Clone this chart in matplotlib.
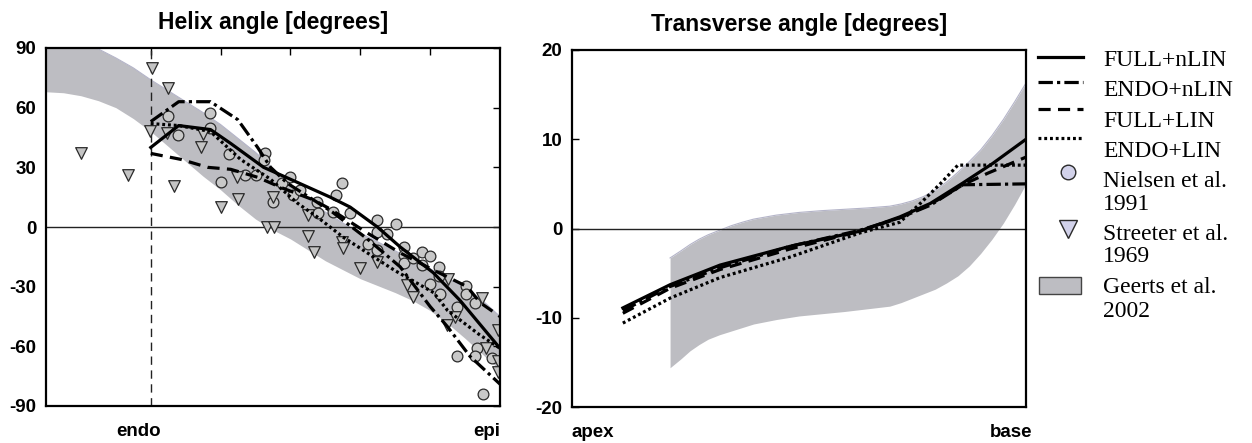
import numpy as np
import matplotlib
matplotlib.use("Agg")
import matplotlib.pyplot as plt
from matplotlib.lines import Line2D
from matplotlib.patches import Rectangle

# ---------------- data: Helix angle panel ----------------
helix_band_x = [-0.3, -0.25, -0.2, -0.15, -0.1, -0.05, 0.0, 0.05, 0.1, 0.15, 0.2, 0.25, 0.3,
                0.35, 0.4, 0.45, 0.5, 0.55, 0.6, 0.65, 0.7, 0.75, 0.8, 0.85, 0.9, 0.95, 1.0]
helix_band_upper = [96, 95, 93, 89.5, 85, 80, 74, 68.5, 63, 57.5, 51.5, 44.5, 37.5,
                    29.5, 21.5, 14, 7.5, 2, -3, -7.5, -12, -16.5, -21, -25.8, -30.5, -37, -45]
helix_band_lower = [68, 67.5, 66, 63.5, 60, 54.5, 48, 40.5, 33, 25.5, 18.7, 11, 4,
                    -1.5, -6, -11.5, -17, -21.5, -26, -29.5, -33, -37, -42, -48.5, -56, -64, -72]

helix_full_nlin_x = [0, 0.08, 0.171, 0.229, 0.323, 0.4, 0.514, 0.571, 0.649, 0.714, 0.809, 0.886, 1.0]
helix_full_nlin_y = [40, 51, 49, 42, 30, 24, 15, 10, 0, -10, -23, -37, -61]

helix_endo_nlin_x = [0, 0.08, 0.171, 0.249, 0.306, 0.343, 0.391, 0.466, 0.52, 0.62, 0.714, 0.8, 0.849, 0.914, 1.0]
helix_endo_nlin_y = [53, 63, 63, 54, 40, 30, 22, 13.6, 7.5, -6, -20, -40, -50, -65, -79]

helix_full_lin_x = [0, 0.086, 0.163, 0.229, 0.306, 0.371, 0.466, 0.514, 0.62, 0.714, 0.809, 0.906, 0.943, 1.0]
helix_full_lin_y = [37, 34, 30, 29, 25, 20, 13.6, 9, -3, -13, -21.6, -30, -38, -45]

helix_endo_lin_x = [0, 0.08, 0.171, 0.257, 0.343, 0.42, 0.477, 0.55, 0.62, 0.7, 0.81, 0.85, 0.94, 1.0]
helix_endo_lin_y = [52, 51, 48, 34, 24, 12, 5, -5, -13, -22, -33, -42, -54, -61]

nielsen_x = [0.049, 0.077, 0.171, 0.171, 0.223, 0.2, 0.271, 0.3, 0.326, 0.323, 0.349, 0.377,
             0.4, 0.406, 0.426, 0.477, 0.48, 0.549, 0.529, 0.523, 0.571, 0.649, 0.703, 0.649,
             0.677, 0.623, 0.649, 0.726, 0.726, 0.726, 0.751, 0.777, 0.8, 0.777, 0.826, 0.826,
             0.8, 0.829, 0.903, 0.903, 0.877, 0.929, 0.934, 0.929, 0.877, 0.977, 0.951]
nielsen_y = [55.8, 46.3, 57.3, 49.8, 36.7, 22.6, 26.1, 26.1, 37.2, 33.7, 12.6, 22.1,
             25.1, 16.1, 18.6, 12.6, 7.0, 22.1, 16.1, 7.5, 7.0, 3.5, 1.5, -2.5,
             -3.5, -8.5, -11.6, -10.1, -14.1, -18.1, -15.6, -12.6, -14.6, -19.1, -20.1, -24.6,
             -28.7, -33.7, -29.7, -33.7, -40.2, -38.2, -60.8, -64.9, -64.9, -65.9, -84.0]

streeter_x = [-0.2, -0.066, 0.003, 0.049, -0.003, 0.046, 0.149, 0.143, 0.066, 0.2, 0.251,
              0.246, 0.349, 0.334, 0.354, 0.449, 0.451, 0.466, 0.549, 0.551, 0.6, 0.649,
              0.734, 0.751, 0.851, 0.849, 0.871, 0.949, 0.994, 0.96, 0.994, 0.994]
streeter_y = [37.2, 26.1, 79.9, 69.9, 48.3, 47.3, 46.8, 40.2, 20.6, 10.1, 14.1,
              25.1, 15.1, 0, 0, 6.0, -4.5, -12.6, -7.5, -10.6, -20.6, -17.6,
              -29.2, -35.2, -26.1, -49.3, -45.2, -35.7, -51.8, -60.8, -67.4, -72.9]

helix_ticks = [-90, -60, -30, 0, 30, 60, 90]
helix_xticks = [0, 0.2, 0.4, 0.6, 0.8]

# ---------------- data: Transverse angle panel ----------------
trans_band_x = [0.216, 0.24, 0.26, 0.28, 0.3, 0.325, 0.35, 0.375, 0.4, 0.45, 0.5, 0.55, 0.6,
                0.65, 0.7, 0.725, 0.75, 0.775, 0.8, 0.825, 0.85, 0.875, 0.9, 0.925, 0.95,
                0.975, 1.0]
trans_band_upper = [-3.3, -2.5, -1.8, -1.2, -0.7, -0.2, 0.3, 0.7, 1.05, 1.5, 1.8, 2.0, 2.15,
                    2.3, 2.5, 2.75, 3.1, 3.6, 4.3, 5.2, 6.3, 7.5, 8.8, 10.4, 12.2, 14.2, 16.3]
trans_band_lower = [-15.6, -14.6, -13.7, -13.0, -12.4, -11.9, -11.5, -11.1, -10.7, -10.2, -9.8,
                    -9.55, -9.3, -9.0, -8.7, -8.3, -7.8, -7.3, -6.8, -6.1, -5.3, -4.2, -2.8,
                    -1.2, 0.6, 2.7, 5.0]

trans_full_nlin_x = [0.112, 0.216, 0.326, 0.48, 0.634, 0.722, 0.789, 0.861, 0.927, 1.0]
trans_full_nlin_y = [-8.9, -6.3, -4.1, -2.0, -0.3, 1.3, 2.8, 5.1, 7.3, 10.0]

trans_endo_nlin_x = [0.112, 0.216, 0.326, 0.48, 0.634, 0.722, 0.789, 0.861, 1.0]
trans_endo_nlin_y = [-9.2, -6.5, -4.4, -2.0, -0.2, 1.2, 2.6, 4.9, 5.0]

trans_full_lin_x = [0.112, 0.216, 0.326, 0.48, 0.634, 0.722, 0.789, 0.861, 0.916, 1.0]
trans_full_lin_y = [-9.5, -6.7, -4.6, -2.3, -0.3, 1.2, 2.7, 4.9, 6.2, 8.0]

trans_endo_lin_x = [0.112, 0.216, 0.326, 0.48, 0.634, 0.722, 0.767, 0.811, 0.85, 1.0]
trans_endo_lin_y = [-10.6, -7.8, -5.5, -3.2, -0.5, 0.7, 2.8, 5.0, 7.1, 7.1]

trans_ticks = [-20, -10, 0, 10, 20]

series_labels = ["FULL+nLIN", "ENDO+nLIN", "FULL+LIN", "ENDO+LIN"]
ref_labels = [["Nielsen et al.", "1991"], ["Streeter et al.", "1969"], ["Geerts et al.", "2002"]]

# ---------------- styles ----------------
W, H = 1252, 443
BAND = "#bdbdc2"
BAND_EDGE = "#b4b4c8"
SANS = ["Liberation Sans", "DejaVu Sans"]
SERIF = ["Liberation Serif", "DejaVu Serif"]
styles = {
    "FULL+nLIN": dict(ls="-", lw=2.3),
    "ENDO+nLIN": dict(ls=(0, (4.5, 1.3, 1.0, 1.3)), lw=2.3),
    "FULL+LIN": dict(ls=(0, (3.8, 2.3)), lw=2.3),
    "ENDO+LIN": dict(ls=(0, (0.9, 0.9)), lw=2.3),
}

plt.rcParams["font.family"] = SANS
plt.rcParams["axes.unicode_minus"] = False
fig = plt.figure(figsize=(W / 100, H / 100), dpi=100)


def ax_rect(x0, y0, x1, y1):
    return [x0 / W, 1 - y1 / H, (x1 - x0) / W, (y1 - y0) / H]


# ---------------- left panel ----------------
ax1 = fig.add_axes(ax_rect(46, 48, 500, 406))
ax1.fill_between(helix_band_x, helix_band_lower, helix_band_upper, color=BAND, lw=0, zorder=1)
ax1.plot(helix_band_x, helix_band_upper, color=BAND_EDGE, lw=0.8, zorder=1)
ax1.axhline(0, color="#222222", lw=1.0, zorder=2)
ax1.axvline(0, color="#222222", lw=1.0, ls=(0, (6, 4)), zorder=2)

ax1.scatter(nielsen_x, nielsen_y, s=60, marker="o", facecolor="#c8c8c8",
            edgecolor="#2a2a2a", linewidth=0.9, zorder=3)
ax1.scatter(streeter_x, streeter_y, s=70, marker="v", facecolor="#c4c4c4",
            edgecolor="#2a2a2a", linewidth=0.9, zorder=3)

for lab, xs, ys in [("FULL+nLIN", helix_full_nlin_x, helix_full_nlin_y),
                    ("ENDO+nLIN", helix_endo_nlin_x, helix_endo_nlin_y),
                    ("FULL+LIN", helix_full_lin_x, helix_full_lin_y),
                    ("ENDO+LIN", helix_endo_lin_x, helix_endo_lin_y)]:
    ax1.plot(xs, ys, color="black", zorder=4, **styles[lab])

ax1.set_xlim(-0.3, 1.0)
ax1.set_ylim(-90, 90)
ax1.set_yticks(helix_ticks)
ax1.set_xticks(helix_xticks)
ax1.tick_params(axis="y", left=False, right=True, labelleft=True, labelright=False,
                direction="in", length=5, width=1, pad=7, labelsize=13.5)
ax1.tick_params(axis="x", bottom=False, top=True, labelbottom=False, labeltop=False,
                direction="in", length=5, width=1)
for lbl in ax1.get_yticklabels():
    lbl.set_fontweight("bold")
for sp in ax1.spines.values():
    sp.set_linewidth(1.6)
    sp.set_zorder(6)
ax1.set_title("Helix angle [degrees]", fontsize=16.5, fontweight="bold", pad=14)
ax1.text(0.203, -0.072, "endo", transform=ax1.transAxes, ha="center", va="center",
         fontsize=13.5, fontweight="bold")
ax1.text(1.0, -0.072, "epi", transform=ax1.transAxes, ha="right", va="center",
         fontsize=13.5, fontweight="bold")

# ---------------- right panel ----------------
ax2 = fig.add_axes(ax_rect(572, 50, 1026, 407))
ax2.fill_between(trans_band_x, trans_band_lower, trans_band_upper, color=BAND, lw=0, zorder=1)
ax2.plot(trans_band_x, trans_band_upper, color=BAND_EDGE, lw=0.8, zorder=1)
ax2.axhline(0, color="#222222", lw=1.0, zorder=2)
for lab, xs, ys in [("FULL+nLIN", trans_full_nlin_x, trans_full_nlin_y),
                    ("ENDO+nLIN", trans_endo_nlin_x, trans_endo_nlin_y),
                    ("FULL+LIN", trans_full_lin_x, trans_full_lin_y),
                    ("ENDO+LIN", trans_endo_lin_x, trans_endo_lin_y)]:
    ax2.plot(xs, ys, color="black", zorder=4, **styles[lab])
ax2.set_xlim(0, 1)
ax2.set_ylim(-20, 20)
ax2.set_yticks(trans_ticks)
ax2.set_xticks([])
ax2.tick_params(axis="y", left=True, direction="in", length=5, width=1, pad=7, labelsize=13.5)
for lbl in ax2.get_yticklabels():
    lbl.set_fontweight("bold")
for sp in ax2.spines.values():
    sp.set_linewidth(1.6)
    sp.set_zorder(6)
ax2.set_title("Transverse angle [degrees]", fontsize=16.5, fontweight="bold", pad=14)
ax2.text(0.0, -0.072, "apex", transform=ax2.transAxes, ha="left", va="center",
         fontsize=13.5, fontweight="bold")
ax2.text(1.015, -0.072, "base", transform=ax2.transAxes, ha="right", va="center",
         fontsize=13.5, fontweight="bold")

# ---------------- legend (drawn in figure pixels) ----------------
def fx(px):
    return px / W


def fy(py):
    return 1 - py / H


hx0, hx1, tx = 1038, 1083, 1103
line_rows = [57, 82, 109, 138]
text_base = [66, 96, 127, 157]
for lab, yl, yb in zip(series_labels, line_rows, text_base):
    fig.add_artist(Line2D([fx(hx0), fx(hx1)], [fy(yl), fy(yl)], color="black",
                          transform=fig.transFigure, **styles[lab]))
    fig.text(fx(tx), fy(yb), lab, family=SERIF, fontsize=17, va="baseline", ha="left")

fig.add_artist(Line2D([fx(1068)], [fy(172)], marker="o", ms=10.5, mfc="#d2d2ea",
                      mec="#2a2a2a", mew=1.0, ls="none", transform=fig.transFigure))
fig.add_artist(Line2D([fx(1068)], [fy(229)], marker="v", ms=13, mfc="#d2d2ea",
                      mec="#2a2a2a", mew=1.0, ls="none", transform=fig.transFigure))
fig.add_artist(Rectangle((fx(1039), fy(294)), fx(1081) - fx(1039), fy(277) - fy(294),
                         facecolor=BAND, edgecolor="#444444", lw=1.0,
                         transform=fig.transFigure))
ref_bases = [(187, 210), (240, 262), (293, 317)]
for (l1, l2), (b1, b2) in zip(ref_labels, ref_bases):
    fig.text(fx(tx), fy(b1), l1, family=SERIF, fontsize=17, va="baseline", ha="left")
    fig.text(fx(tx), fy(b2), l2, family=SERIF, fontsize=17, va="baseline", ha="left")

fig.savefig("out.png", dpi=100)
